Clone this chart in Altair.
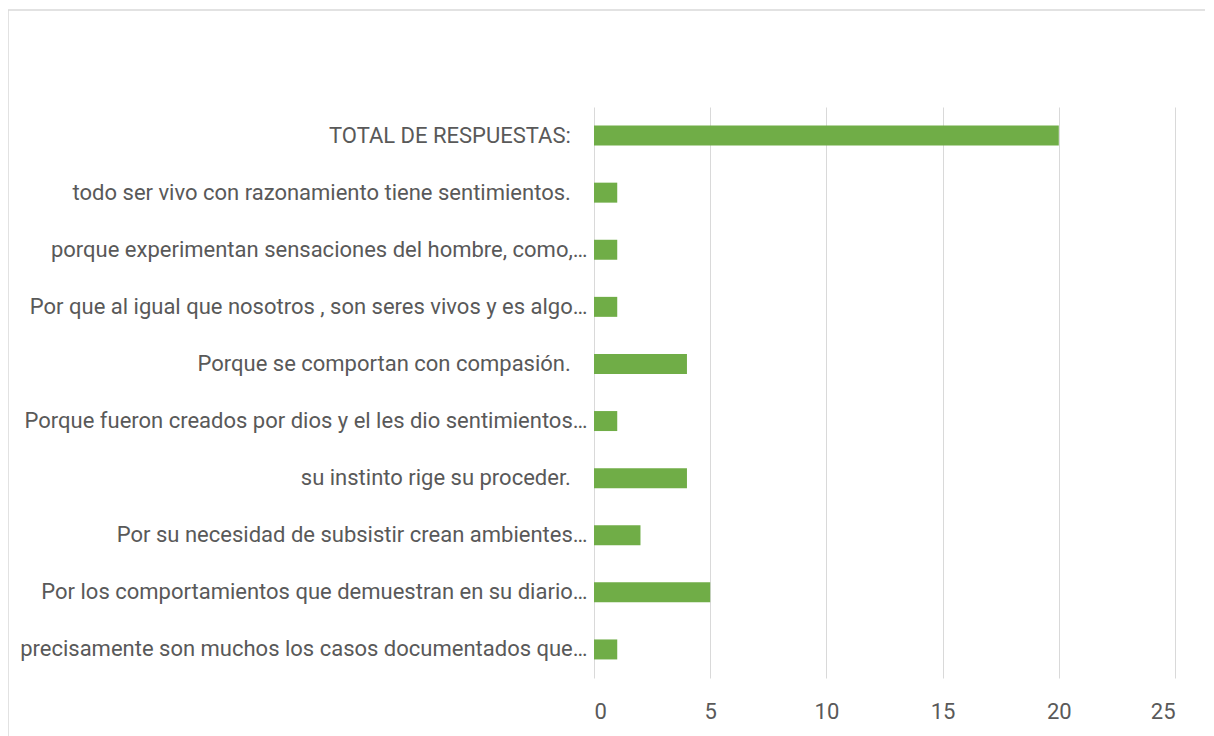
import altair as alt
import pandas as pd

PAD = "\u2002\u00a0\u200b"
categories = [
    "TOTAL DE RESPUESTAS:" + PAD,
    "todo ser vivo con razonamiento tiene sentimientos." + PAD,
    "porque experimentan sensaciones del hombre, como,…",
    "Por que al igual que nosotros , son seres vivos y es algo…",
    "Porque se comportan con compasión." + PAD,
    "Porque fueron creados por dios y el les dio sentimientos…",
    "su instinto rige su proceder." + PAD,
    "Por su necesidad de subsistir crean ambientes…",
    "Por los comportamientos que demuestran en su diario…",
    "precisamente son muchos los casos documentados que…",
]
values = [20, 1, 1, 1, 4, 1, 4, 2, 5, 1]
x_ticks = [0, 5, 10, 15, 20, 25]

df = pd.DataFrame({"cat": categories, "val": values})

FONT = "Roboto"
FS = 22
TXT = "#595959"

bars = alt.Chart(df).mark_bar(color="#70AD47").encode(
    x=alt.X("val:Q", scale=alt.Scale(domain=[0, 25], nice=False),
            axis=alt.Axis(values=x_ticks, title=None, domain=False, ticks=False,
                          grid=True, gridColor="#d9d9d9", gridWidth=1,
                          labelFont=FONT, labelFontSize=FS, labelColor=TXT,
                          labelPadding=23)),
    y=alt.Y("cat:N", sort=categories,
            scale=alt.Scale(paddingInner=0.65, paddingOuter=0.325),
            axis=alt.Axis(title=None, domain=False, ticks=False, grid=False,
                          labelFont=FONT, labelFontSize=FS, labelColor=TXT,
                          labelLimit=0, labelPadding=7)),
)

border = alt.Chart(pd.DataFrame({"a": [0]})).mark_rect(
    fill=None, stroke="#d9d9d9", strokeWidth=1.5, clip=False
).encode(
    x=alt.value(-586), x2=alt.value(700),
    y=alt.value(-97), y2=alt.value(700),
)

chart = alt.layer(border, bars).properties(
    width=581, height=571,
    autosize=alt.AutoSizeParams(type="none"),
    padding={"left": 586, "top": 99, "right": 30, "bottom": 60},
    background="white",
).configure_view(stroke=None, strokeWidth=0)

chart.save("out.html", embed_options={"renderer": "svg", "actions": False})
